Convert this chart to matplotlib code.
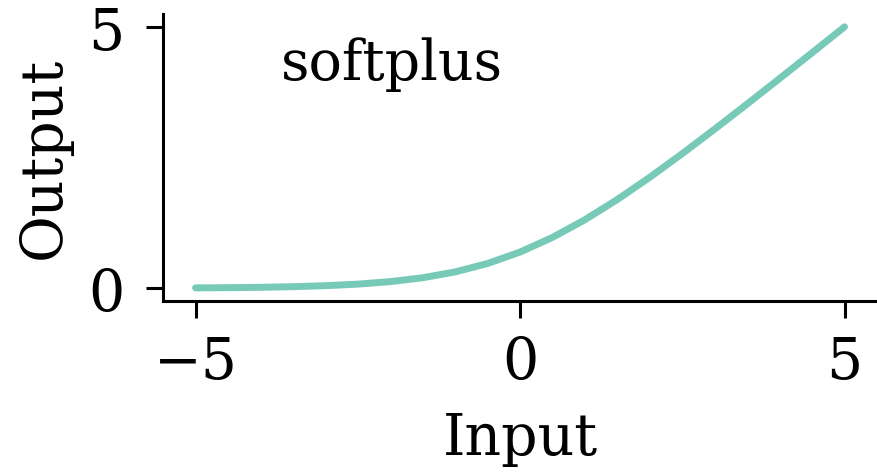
import matplotlib
matplotlib.use("Agg")
import matplotlib.pyplot as plt

# softplus curve, sampled every half unit
inputs = [-5.0, -4.5, -4.0, -3.5, -3.0, -2.5, -2.0, -1.5, -1.0, -0.5, 0.0,
          0.5, 1.0, 1.5, 2.0, 2.5, 3.0, 3.5, 4.0, 4.5, 5.0]
outputs = [0.007, 0.011, 0.018, 0.030, 0.049, 0.079, 0.127, 0.201, 0.313, 0.474, 0.693,
           0.974, 1.313, 1.701, 2.127, 2.579, 3.049, 3.530, 4.018, 4.511, 5.007]
x_ticks = [-5, 0, 5]
y_ticks = [0, 5]
label = "softplus"

plt.rcParams['font.family'] = 'DejaVu Serif'
plt.rcParams['font.size'] = 41

fig = plt.figure(figsize=(8.77, 4.77), dpi=100)
ax = fig.add_axes([0.186, 0.367, 0.814, 0.602])

ax.plot(inputs, outputs, color='#76cab7', linewidth=5, solid_capstyle='round')

ax.set_xticks(x_ticks)
ax.set_yticks(y_ticks)
ax.set_xlabel('Input', labelpad=14)
ax.set_ylabel('Output', labelpad=12)
ax.text(0.165, 0.92, label, transform=ax.transAxes, fontsize=40, va='top', ha='left')

for side in ['top', 'right']:
    ax.spines[side].set_visible(False)
for side in ['left', 'bottom']:
    ax.spines[side].set_linewidth(2.2)
ax.tick_params(width=2.2, length=12)
ax.tick_params(axis='x', pad=12)
ax.tick_params(axis='y', pad=16)

fig.savefig('out.png', dpi=100)
